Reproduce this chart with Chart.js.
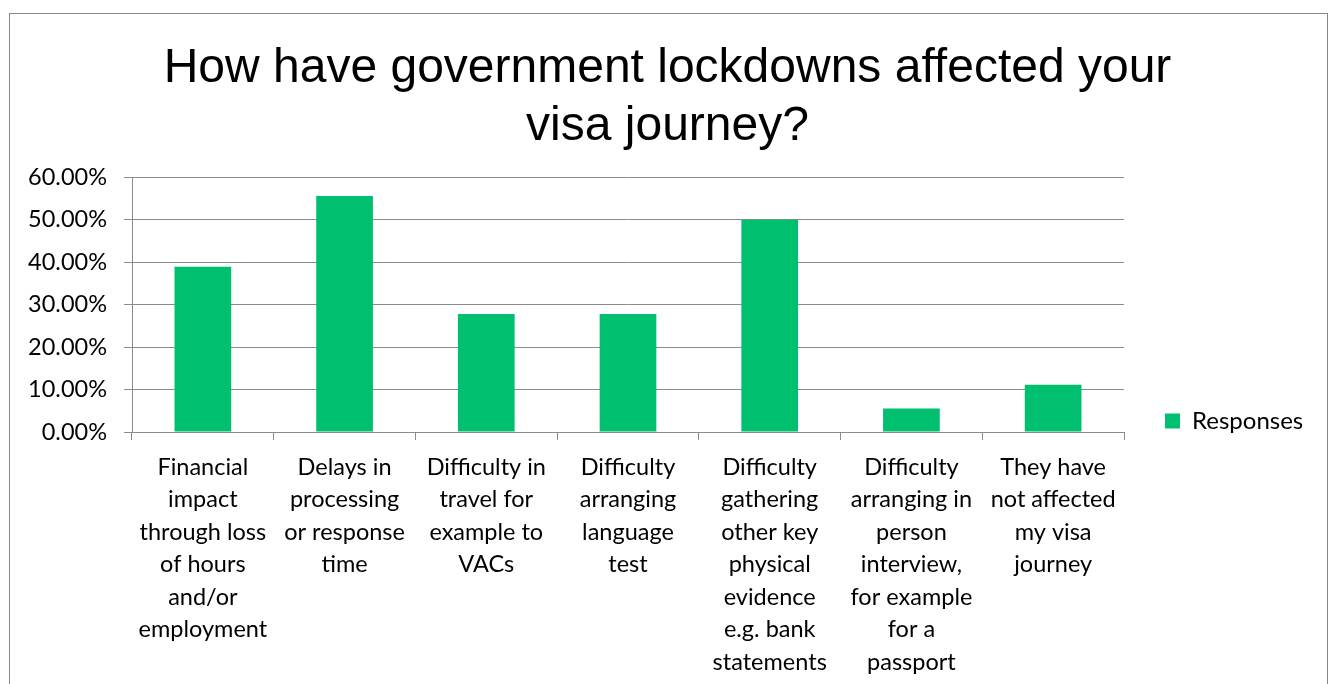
<!DOCTYPE html>
<html>
<head>
<meta charset="utf-8">
<script src="https://cdn.jsdelivr.net/npm/chart.js@4"></script>
<style>
  html,body{margin:0;padding:0;background:#fff;}
  #c{display:block;}
</style>
</head>
<body>
<canvas id="c" width="1335" height="684"></canvas>
<script>
/* data */
const categories = [
  ['Financial','impact','through loss','of hours','and/or','employment'],
  ['Delays in','processing','or response','time'],
  ['Difficulty in','travel for','example to','VACs'],
  ['Difficulty','arranging','language','test'],
  ['Difficulty','gathering','other key','physical','evidence','e.g. bank','statements'],
  ['Difficulty','arranging in','person','interview,','for example','for a','passport'],
  ['They have','not affected','my visa','journey']
];
const responses = [38.89, 55.56, 27.78, 27.78, 50.00, 5.56, 11.11];
const seriesName = 'Responses';
const titleLines = ['How have government lockdowns affected your', 'visa journey?'];
const yMin = 0, yMax = 60, yStep = 10;

const GREEN = '#00BF6F';
const GRID = '#8c8c8c';
const LABEL_FONT = 'Lato, "Open Sans", sans-serif';

// frame around the chart + legend placement
const layoutPlugin = {
  id:'layoutTweaks',
  beforeInit(chart){
    const lg = chart.legend;
    const origFit = lg.fit;
    lg.fit = function(){
      origFit.call(this);
      this.width = 211;
    };
  },
  afterLayout(chart){
    const lg = chart.legend;
    lg.left = 1155; lg.right = 1335;
    lg.top = 400; lg.bottom = 442;
  },
  beforeDraw(chart){
    const c = chart.ctx;
    c.save();
    c.fillStyle = '#fff';
    c.fillRect(0,0,chart.width,chart.height);
    c.strokeStyle = '#888';
    c.lineWidth = 1;
    c.strokeRect(9.5,13.5,1318,720);
    c.restore();
  }
};

new Chart(document.getElementById('c'),{
  type:'bar',
  data:{
    labels:categories,
    datasets:[{
      label:seriesName,
      data:responses,
      backgroundColor:GREEN,
      borderWidth:0,
      barPercentage:0.4,
      categoryPercentage:1
    }]
  },
  options:{
    responsive:false,
    animation:false,
    layout:{padding:0},
    plugins:{
      title:{
        display:true,
        text:titleLines,
        color:'#000',
        font:{family:'"Liberation Sans", Arial, sans-serif',size:48,weight:'normal',lineHeight:1.2},
        padding:{top:40,bottom:22}
      },
      legend:{
        position:'right',
        align:'center',
        labels:{
          boxWidth:15,boxHeight:15,padding:10,
          color:'#000',
          font:{family:LABEL_FONT,size:24}
        }
      },
      tooltip:{enabled:false}
    },
    scales:{
      x:{
        grid:{display:true,drawOnChartArea:false,drawTicks:true,tickLength:8,color:GRID,offset:true},
        border:{display:true,color:GRID},
        ticks:{
          color:'#000',autoSkip:false,maxRotation:0,minRotation:0,padding:11,
          font:{family:LABEL_FONT,size:23.5,lineHeight:32.5/23.5}
        },
        afterFit(s){ s.height = 252; }
      },
      y:{
        min:yMin,max:yMax,
        grid:{color:GRID,tickLength:8,drawTicks:true},
        border:{display:true,color:GRID},
        ticks:{
          stepSize:yStep,color:'#000',padding:17,
          font:{family:LABEL_FONT,size:23.5},
          callback:v=>v.toFixed(2)+'%'
        },
        afterFit(s){ s.width = 132; }
      }
    }
  },
  plugins:[layoutPlugin]
});
</script>
</body>
</html>
